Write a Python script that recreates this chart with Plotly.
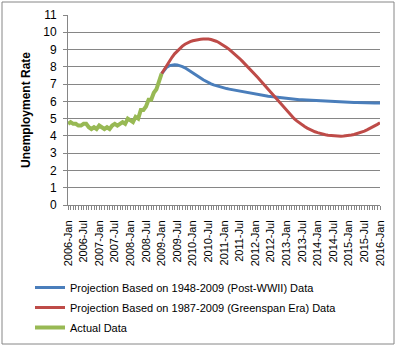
import plotly.graph_objects as go

# Month labels, Jan 2006 .. Jan 2016
years = list(range(2006, 2017))
month_names = ["Jan", "Feb", "Mar", "Apr", "May", "Jun",
               "Jul", "Aug", "Sep", "Oct", "Nov", "Dec"]
months = [f"{y}-{m}" for y in years for m in month_names][:121]
idx = list(range(len(months)))

# Actual unemployment rate, Jan 2006 .. Jan 2009
actual = [4.7, 4.8, 4.7, 4.7, 4.6, 4.6, 4.7, 4.7, 4.5, 4.4, 4.5, 4.4,
          4.6, 4.5, 4.4, 4.5, 4.4, 4.6, 4.7, 4.6, 4.7, 4.8, 4.7, 5.0,
          4.9, 4.8, 5.1, 5.0, 5.5, 5.5, 5.7, 6.1, 6.1, 6.5, 6.7, 7.2,
          7.6]

# Projections, Jan 2009 .. Jan 2016
proj_postwar = [7.60, 7.82, 7.98, 8.07, 8.11, 8.12, 8.11, 8.07, 8.01, 7.94,
                7.85, 7.75, 7.65, 7.55, 7.45, 7.35, 7.25, 7.16, 7.08, 7.01,
                6.95, 6.90, 6.85, 6.81, 6.77, 6.74, 6.71, 6.68, 6.65, 6.62,
                6.60, 6.57, 6.55, 6.52, 6.49, 6.46, 6.43, 6.41, 6.38, 6.35,
                6.32, 6.30, 6.28, 6.26, 6.24, 6.22, 6.20, 6.18, 6.16, 6.15,
                6.13, 6.12, 6.11, 6.10, 6.09, 6.08, 6.07, 6.06, 6.05, 6.04,
                6.03, 6.02, 6.01, 6.00, 5.99, 5.98, 5.98, 5.97, 5.96, 5.96,
                5.95, 5.95, 5.94, 5.94, 5.93, 5.93, 5.92, 5.92, 5.92, 5.91,
                5.91, 5.91, 5.90, 5.90, 5.90]

proj_greenspan = [7.60, 7.85, 8.10, 8.33, 8.55, 8.75, 8.92, 9.07, 9.20, 9.31,
                  9.40, 9.46, 9.51, 9.55, 9.58, 9.60, 9.61, 9.62, 9.61, 9.58,
                  9.54, 9.48, 9.41, 9.33, 9.23, 9.12, 9.01, 8.89, 8.76, 8.62,
                  8.48, 8.33, 8.18, 8.02, 7.87, 7.71, 7.55, 7.38, 7.21, 7.04,
                  6.87, 6.70, 6.53, 6.36, 6.19, 6.02, 5.82, 5.64, 5.46, 5.29,
                  5.14, 5.00, 4.87, 4.75, 4.64, 4.54, 4.45, 4.37, 4.30, 4.24,
                  4.19, 4.14, 4.10, 4.07, 4.04, 4.02, 4.00, 3.99, 3.98, 3.98,
                  3.99, 4.00, 4.02, 4.05, 4.08, 4.12, 4.17, 4.22, 4.28, 4.35,
                  4.42, 4.50, 4.58, 4.67, 4.76]

proj_start = len(actual) - 1
tick_labels = months[::6]

FONT = "Liberation Sans, Arial, sans-serif"
GRID = "#868686"

fig = go.Figure()
fig.add_trace(go.Scatter(
    x=idx[proj_start:], y=proj_postwar, mode="lines",
    name="Projection Based on 1948-2009 (Post-WWII) Data",
    line=dict(color="#4A7EBB", width=3), legendgroup="a"))
fig.add_trace(go.Scatter(
    x=idx[proj_start:], y=proj_greenspan, mode="lines",
    name="Projection Based on 1987-2009 (Greenspan Era) Data",
    line=dict(color="#BE4B48", width=3), legendgroup="b"))
fig.add_trace(go.Scatter(
    x=idx[:len(actual)], y=actual, mode="lines",
    name="Actual Data",
    line=dict(color="#98B954", width=4), legendgroup="c"))

L, R, T, B = 68, 20, 15, 142
W, H = 400, 347
pw, ph = W - L - R, H - T - B


def px(x):
    return (x - L) / pw


def py(y):
    return (H - B - y) / ph


fig.update_layout(
    width=W, height=H,
    margin=dict(l=L, r=R, t=T, b=B, autoexpand=False),
    paper_bgcolor="white", plot_bgcolor="white",
    font=dict(family=FONT, size=11, color="black"),
    showlegend=True,
    legend=dict(
        x=px(30), y=py(273), xanchor="left", yanchor="top",
        orientation="v", traceorder="grouped", tracegroupgap=1,
        font=dict(family=FONT, size=11, color="black"),
        bgcolor="rgba(0,0,0,0)", itemwidth=30),
    xaxis=dict(
        range=[0, 120], tickmode="array", automargin=False,
        tickvals=idx[::6], ticktext=tick_labels, tickangle=-90,
        ticks="outside", ticklen=4, tickcolor=GRID,
        minor=dict(ticks="outside", dtick=1, ticklen=4, tickcolor=GRID,
                   showgrid=False),
        showline=True, linecolor=GRID, linewidth=1,
        showgrid=False, zeroline=False,
        tickfont=dict(family=FONT, size=11, color="black"),
        ticklabelstandoff=6),
    yaxis=dict(
        range=[0, 11], dtick=1, tick0=0, automargin=False,
        ticks="outside", ticklen=4, tickcolor=GRID,
        showline=True, linecolor=GRID, linewidth=1,
        showgrid=True, gridcolor=GRID, gridwidth=1, zeroline=False,
        tickfont=dict(family=FONT, size=12, color="black"),
        ticklabelstandoff=4,
        title=dict(text="<b>Unemployment Rate</b>",
                   font=dict(family=FONT, size=12, color="black"),
                   standoff=10)),
    shapes=[dict(type="rect", xref="paper", yref="paper",
                 x0=px(2), x1=px(394), y0=py(344), y1=py(2),
                 line=dict(color=GRID, width=1), layer="below")],
)

fig.write_html("out.html")
